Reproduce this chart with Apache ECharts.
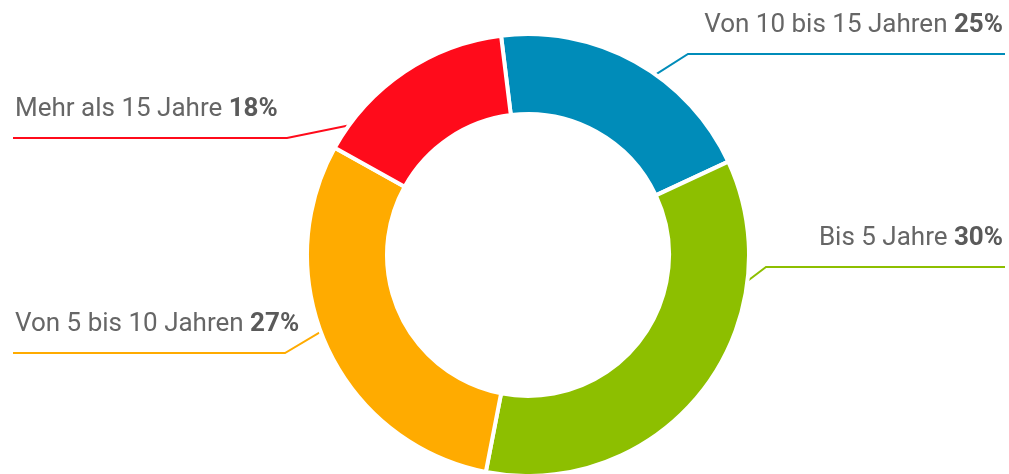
<!DOCTYPE html>
<html>
<head>
<meta charset="utf-8">
<script src="https://cdn.jsdelivr.net/npm/echarts@6/dist/echarts.min.js"></script>
<style>
  html, body { margin: 0; padding: 0; background: #fff; }
  #chart { width: 1009px; height: 474px; }
</style>
</head>
<body>
<div id="chart"></div>
<script>
// categories in clockwise order, starting just left of 12 o'clock
const categories = ['Von 10 bis 15 Jahren', 'Bis 5 Jahre', 'Von 5 bis 10 Jahren', 'Mehr als 15 Jahre'];
// share of the ring as drawn in the picture
const sliceValues = [20, 35, 30, 15];
// percentages printed next to each label
const printedShares = ['25%', '30%', '27%', '18%'];

const CX = 528, CY = 255;
// where each guide line leaves the ring (deg clockwise from top) and its elbow
const guides = [
  { angle: 34.5, elbow: [688, 54] },
  { angle: 98.6, elbow: [766, 267] },
  { angle: 250, elbow: [285, 353] },
  { angle: 308, elbow: [287, 138] }
];

let chart = echarts.init(document.getElementById('chart'));
chart.setOption({
  animation: false,
  color: ['#008cb9', '#8dbf00', '#ffab00', '#ff0b1b'],
  series: [
    {
      type: 'pie',
      center: [CX, CY],
      radius: [141, 221],
      startAngle: 97,
      clockwise: true,
      avoidLabelOverlap: false,
      itemStyle: { borderColor: '#fff', borderWidth: 4 },
      emphasis: { disabled: true },
      data: categories.map((name, i) => ({ name: name, value: sliceValues[i] })),
      label: {
        show: true,
        position: 'outside',
        formatter: p => '{n|' + p.name + ' }{p|' + printedShares[p.dataIndex] + '}',
        rich: {
          n: { fontSize: 26, fontFamily: 'Roboto', color: '#666' },
          p: { fontSize: 26, fontFamily: 'Roboto', fontWeight: 'bold', color: '#5a5a5a' }
        }
      },
      labelLine: { show: true, smooth: false, lineStyle: { width: 2 } },
      labelLayout: function (params) {
        const g = guides[params.dataIndex];
        const a = g.angle * Math.PI / 180;
        const ring = 214;
        const start = [CX + ring * Math.sin(a), CY - ring * Math.cos(a)];
        const right = g.elbow[0] > CX;
        return {
          x: right ? 1003 : 15,
          y: g.elbow[1] - 29,
          align: right ? 'right' : 'left',
          verticalAlign: 'middle',
          labelLinePoints: [start, g.elbow, [right ? 1005 : 13, g.elbow[1]]]
        };
      }
    }
  ]
});
</script>
</body>
</html>
